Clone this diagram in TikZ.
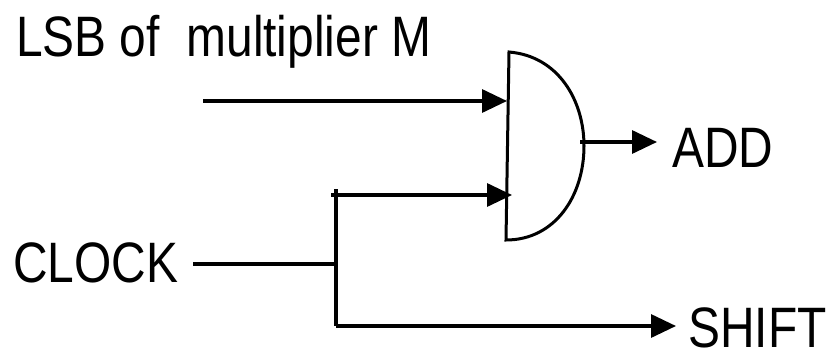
\documentclass[tikz,border=0pt]{standalone}
\usepackage{fontspec}
\setmainfont[FakeStretch=0.84]{Liberation Sans}
\usetikzlibrary{arrows.meta}
\tikzset{>={Triangle[length=25pt,width=23pt]}}
\tikzset{wire/.style={line width=3.3pt}}
\tikzset{label/.style={inner sep=0pt, anchor=base west, font=\fontsize{57}{57}\selectfont}}
\begin{document}
\begin{tikzpicture}[x=1pt,y=-1pt]
      \useasboundingbox (0,0) rectangle (831,349);
      \draw[line width=3pt] (509,52) .. controls (558,56) and (584,100) .. (584,146) .. controls (584,196) and (555,240) .. (506,240) -- cycle;
      \node[label] (lsb) at (16,56) {LSB of\ \ multiplier M};
      \node[label] (clock) at (13,282) {CLOCK};
      \node[label] (add) at (672,167) {ADD};
      \node[label] (shift) at (688,347) {SHIFT};
      \coordinate (inA) at (203,101);
      \coordinate (gateA) at (507,101);
      \coordinate (stubB) at (331,195);
      \coordinate (gateB) at (512,195);
      \coordinate (gateOut) at (580,142);
      \coordinate (outTip) at (657,142);
      \coordinate (branch) at (336,264);
      \coordinate (top) at (336,189);
      \coordinate (bottom) at (336,326);
      \draw[wire, ->] (inA) -- (gateA);
      \draw[wire, ->] (stubB) -- (gateB);
      \draw[wire, ->] (gateOut) -- (outTip);
      \draw[wire, shorten <=15pt] (clock.east |- branch) -- (branch);
      \draw[wire] (top) -- (bottom);
      \draw[wire, ->, shorten >=12pt] (bottom) -- (bottom -| shift.west);
    \end{tikzpicture}
\end{document}
